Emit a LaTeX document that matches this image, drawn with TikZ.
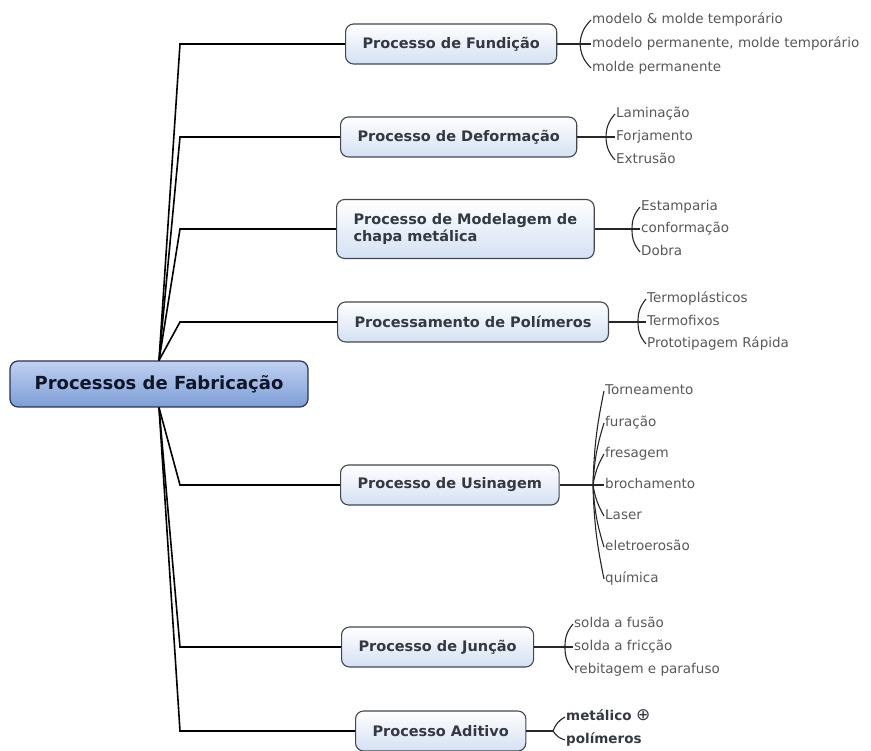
\documentclass[tikz,border=0pt]{standalone}
\usepackage{fontspec}
\setmainfont{DejaVu Sans}
\definecolor{mmroottop}{RGB}{192,209,242}
\definecolor{mmrootbot}{RGB}{126,157,214}
\definecolor{mmrootline}{RGB}{40,52,78}
\definecolor{mmroottext}{RGB}{14,22,40}
\definecolor{mmbranch}{RGB}{212,224,243}
\definecolor{mmline}{RGB}{66,70,78}
\definecolor{mmtext}{RGB}{52,56,64}
\definecolor{mmleaf}{RGB}{88,88,88}
\usetikzlibrary{positioning}

\begin{document}
\begin{tikzpicture}[
  x=1pt,y=-1pt,
  rootbox/.style={draw=mmrootline,line width=1.2pt,top color=mmroottop,bottom color=mmrootbot,
                  text=mmroottext,rounded corners=8pt,minimum width=298pt,minimum height=46pt,
                  font=\fontsize{18}{21}\selectfont\bfseries},
  branchbox/.style={draw=mmline,line width=1.1pt,top color=white,bottom color=mmbranch,
                    text=mmtext,rounded corners=8pt,minimum height=40pt,inner xsep=17pt,
                    anchor=west,align=left,font=\fontsize{14.5}{17.5}\selectfont\bfseries},
  leaf/.style={anchor=west,text=mmleaf,inner sep=1pt,text height=9.5pt,text depth=2.5pt,
               font=\fontsize{13.5}{15}\selectfont},
  boldleaf/.style={leaf,text=mmtext,font=\fontsize{13.5}{15}\selectfont\bfseries},
  trunk/.style={black,line width=1.6pt},
  twig/.style={black!85,line width=1.1pt},
]
  \useasboundingbox (0,0) rectangle (871,751);

  % Root
  \node[rootbox] (root) at (159,384) {Processos de Fabricação};
  \coordinate (trunk) at (180,0);

  % Branches
  \node[branchbox] (fund)   at (345,44)  {Processo de Fundição};
  \node[branchbox] (deform) at (340,137) {Processo de Deformação};
  \node[branchbox,minimum height=59pt] (model) at (336,229) {Processo de Modelagem de\\chapa metálica};
  \node[branchbox] (polim)  at (337,322) {Processamento de Polímeros};
  \node[branchbox] (usin)   at (340,485) {Processo de Usinagem};
  \node[branchbox] (junc)   at (341,647) {Processo de Junção};
  \node[branchbox] (adit)   at (355,731) {Processo Aditivo};

  \draw[trunk] (root.north) -- (trunk |- fund.west)   -- (fund.west);
  \draw[trunk] (root.north) -- (trunk |- deform.west) -- (deform.west);
  \draw[trunk] (root.north) -- (trunk |- model.west)  -- (model.west);
  \draw[trunk] (root.north) -- (trunk |- polim.west)  -- (polim.west);
  \draw[trunk] (root.south) -- (trunk |- usin.west)   -- (usin.west);
  \draw[trunk] (root.south) -- (trunk |- junc.west)   -- (junc.west);
  \draw[trunk] (root.south) -- (trunk |- adit.west)   -- (adit.west);

  % Fundicao
  \coordinate (fundj) at (580,44);
  \node[leaf] (fund1) at (591,20) {modelo \& molde temporário};
  \node[leaf] (fund2) at (591,44) {modelo permanente, molde temporário};
  \node[leaf] (fund3) at (591,68) {molde permanente};
  \draw[twig] (fund.east) -- (fundj);
  \draw[twig] (fundj) to[bend left=20] (fund1.west);
  \draw[twig] (fundj) -- (fund2.west);
  \draw[twig] (fundj) to[bend right=20] (fund3.west);

  % Deformacao
  \coordinate (deformj) at (606,137);
  \node[leaf] (deform1) at (615,114) {Laminação};
  \node[leaf] (deform2) at (615,137) {Forjamento};
  \node[leaf] (deform3) at (615,160) {Extrusão};
  \draw[twig] (deform.east) -- (deformj);
  \draw[twig] (deformj) to[bend left=20] (deform1.west);
  \draw[twig] (deformj) -- (deform2.west);
  \draw[twig] (deformj) to[bend right=20] (deform3.west);

  % Modelagem de chapa
  \coordinate (modelj) at (632,229);
  \node[leaf] (model1) at (640,207) {Estamparia};
  \node[leaf] (model2) at (640,229) {conformação};
  \node[leaf] (model3) at (640,252) {Dobra};
  \draw[twig] (model.east) -- (modelj);
  \draw[twig] (modelj) to[bend left=20] (model1.west);
  \draw[twig] (modelj) -- (model2.west);
  \draw[twig] (modelj) to[bend right=20] (model3.west);

  % Polimeros
  \coordinate (polimj) at (638,322);
  \node[leaf] (polim1) at (646,299) {Termoplásticos};
  \node[leaf] (polim2) at (646,322) {Termofixos};
  \node[leaf] (polim3) at (646,344) {Prototipagem Rápida};
  \draw[twig] (polim.east) -- (polimj);
  \draw[twig] (polimj) to[bend left=20] (polim1.west);
  \draw[twig] (polimj) -- (polim2.west);
  \draw[twig] (polimj) to[bend right=20] (polim3.west);

  % Usinagem
  \coordinate (usinj) at (593,485);
  \node[leaf] (usin1) at (604,391) {Torneamento};
  \node[leaf] (usin2) at (604,423) {furação};
  \node[leaf] (usin3) at (604,454) {fresagem};
  \node[leaf] (usin4) at (604,485) {brochamento};
  \node[leaf] (usin5) at (604,516) {Laser};
  \node[leaf] (usin6) at (604,547) {eletroerosão};
  \node[leaf] (usin7) at (604,579) {química};
  \draw[twig] (usin.east) -- (usinj);
  \draw[twig] (usinj) to[bend left=5]  (usin1.west);
  \draw[twig] (usinj) to[bend left=7]  (usin2.west);
  \draw[twig] (usinj) to[bend left=10] (usin3.west);
  \draw[twig] (usinj) -- (usin4.west);
  \draw[twig] (usinj) to[bend right=10] (usin5.west);
  \draw[twig] (usinj) to[bend right=7]  (usin6.west);
  \draw[twig] (usinj) to[bend right=5]  (usin7.west);

  % Juncao
  \coordinate (juncj) at (565,647);
  \node[leaf] (junc1) at (573,624) {solda a fusão};
  \node[leaf] (junc2) at (573,647) {solda a fricção};
  \node[leaf] (junc3) at (573,670) {rebitagem e parafuso};
  \draw[twig] (junc.east) -- (juncj);
  \draw[twig] (juncj) to[bend left=20] (junc1.west);
  \draw[twig] (juncj) -- (junc2.west);
  \draw[twig] (juncj) to[bend right=20] (junc3.west);

  % Aditivo
  \coordinate (aditj) at (553,731);
  \node[boldleaf] (adit1) at (565,717) {metálico {\mdseries\fontsize{17}{17}\selectfont ⊕}};
  \node[boldleaf] (adit2) at (565,740) {polímeros};
  \draw[twig] (adit.east) -- (aditj);
  \draw[twig] (aditj) to[bend left=20] (adit1.west);
  \draw[twig] (aditj) to[bend right=20] (adit2.west);
\end{tikzpicture}
\end{document}
